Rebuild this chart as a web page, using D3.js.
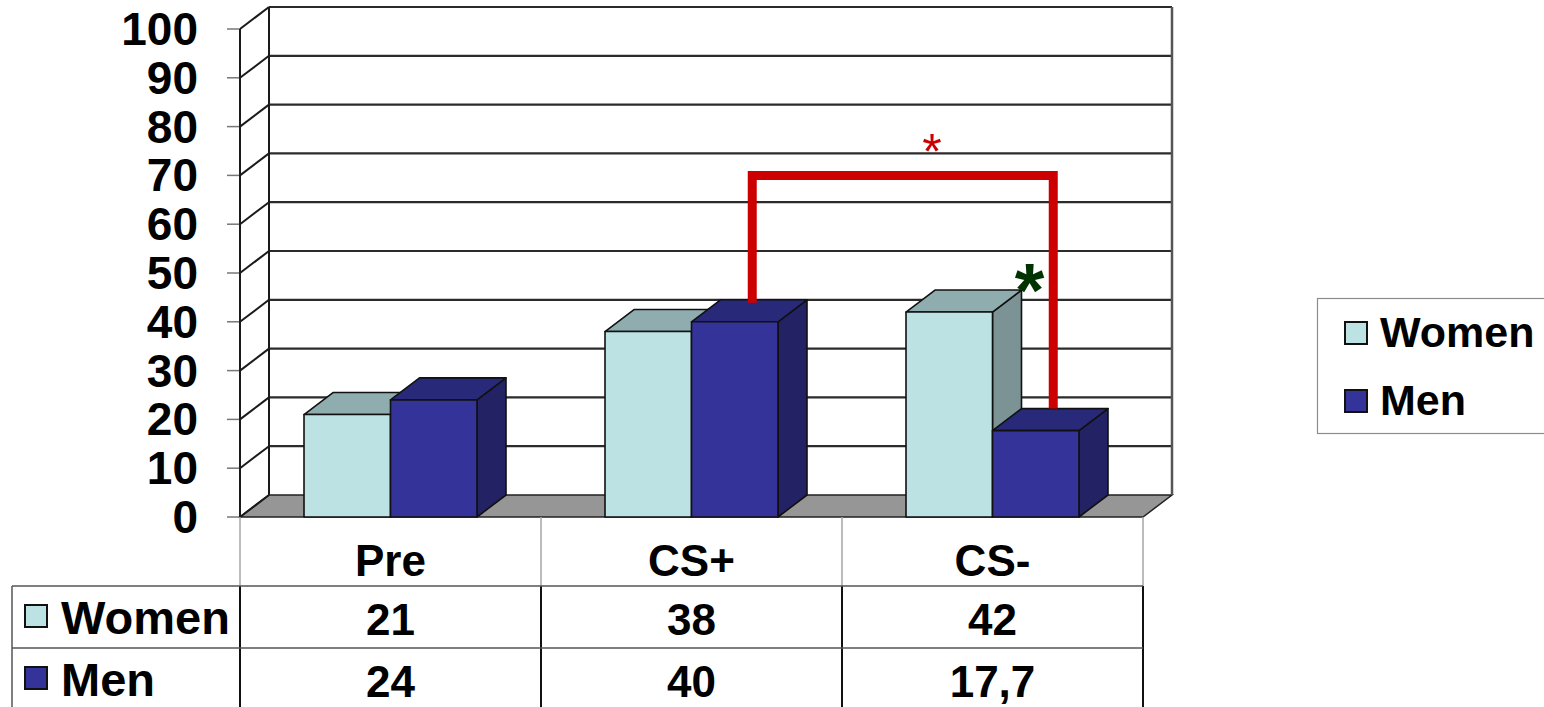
<!DOCTYPE html>
<html>
<head>
<meta charset="utf-8">
<script src="https://cdn.jsdelivr.net/npm/d3@7"></script>
<style>
  html, body { margin: 0; padding: 0; background: #fff; overflow: hidden; }
  svg { display: block; }
  text { font-family: "Liberation Sans", Arial, sans-serif; font-weight: bold; fill: #000; }
</style>
</head>
<body>
<svg id="chart" width="1544" height="707"></svg>
<script>
// ---- data ----
const categories = ["Pre", "CS+", "CS-"];
const series = ["Women", "Men"];
const womenValues = [21, 38, 42];
const menValues = [24, 40, 17.7];
const valueLabels = { Women: ["21", "38", "42"], Men: ["24", "40", "17,7"] };
const yTicks = [0, 10, 20, 30, 40, 50, 60, 70, 80, 90, 100];
// significance bracket between CS+ Men and CS- Men, drawn at level 70
const bracketLevel = 70;

const colors = {
  Women: { front: "#BDE2E3", top: "#8FADAE", side: "#7B9394" },
  Men:   { front: "#333399", top: "#29297A", side: "#222264" }
};

const svg = d3.select("#chart");

// ---- scales ----
const plotLeft = 240, plotRight = 1143, floorY = 517, topY = 29;
const depthX = 29, depthY = -22;

const y = d3.scaleLinear().domain([0, 100]).range([floorY, topY]);
const x0 = d3.scaleBand().domain(categories).range([plotLeft, plotRight]).paddingInner(0).paddingOuter(0);
const x1 = d3.scaleBand().domain(series).range([0, x0.bandwidth()]).paddingInner(0).paddingOuter(0.74);

const valuesBySeries = { Women: womenValues, Men: menValues };

// ---- floor ----
svg.append("path")
  .attr("d", `M${plotLeft},${floorY} L${plotLeft + depthX},${floorY + depthY} L${plotRight + depthX},${floorY + depthY} L${plotRight},${floorY} Z`)
  .attr("fill", "#969696").attr("stroke", "#222").attr("stroke-width", 1.5);

// ---- back wall grid ----
const grid = svg.append("g");
yTicks.forEach(t => {
  if (t > 0) {
    grid.append("line")
      .attr("x1", plotLeft + depthX).attr("x2", plotRight + depthX)
      .attr("y1", y(t) + depthY).attr("y2", y(t) + depthY)
      .attr("stroke", "#2b2b2b").attr("stroke-width", 2.2);
  }
  // side wall diagonal
  grid.append("line")
    .attr("x1", plotLeft).attr("y1", y(t))
    .attr("x2", plotLeft + depthX).attr("y2", y(t) + depthY)
    .attr("stroke", "#1a1a1a").attr("stroke-width", 2);
  // tick mark
  grid.append("line")
    .attr("x1", plotLeft - 13).attr("x2", plotLeft)
    .attr("y1", y(t)).attr("y2", y(t))
    .attr("stroke", "#777").attr("stroke-width", 1.5);
});
// wall edges
grid.append("line").attr("x1", plotLeft + depthX).attr("x2", plotLeft + depthX)
  .attr("y1", y(100) + depthY).attr("y2", y(0) + depthY).attr("stroke", "#1a1a1a").attr("stroke-width", 2);
grid.append("line").attr("x1", plotRight + depthX).attr("x2", plotRight + depthX)
  .attr("y1", y(100) + depthY).attr("y2", y(0) + depthY).attr("stroke", "#555").attr("stroke-width", 2.5);
grid.append("line").attr("x1", plotLeft).attr("x2", plotLeft)
  .attr("y1", y(100)).attr("y2", y(0)).attr("stroke", "#1a1a1a").attr("stroke-width", 2);

// ---- y axis labels ----
svg.append("g").selectAll("text").data(yTicks).join("text")
  .attr("x", 198).attr("y", d => y(d) + 16)
  .attr("text-anchor", "end").attr("font-size", 46)
  .text(d => d);

// ---- 3D bars ----
const bars = svg.append("g");
categories.forEach((c, i) => {
  series.forEach(s => {
    const v = valuesBySeries[s][i];
    const xl = x0(c) + x1(s), xr = xl + x1.bandwidth();
    const yt = y(v), yb = y(0);
    const col = colors[s];
    const g = bars.append("g").attr("stroke", "#111").attr("stroke-width", 1.6).attr("stroke-linejoin", "round");
    g.append("path").attr("fill", col.side)
      .attr("d", `M${xr},${yb} L${xr + depthX},${yb + depthY} L${xr + depthX},${yt + depthY} L${xr},${yt} Z`);
    g.append("path").attr("fill", col.top)
      .attr("d", `M${xl},${yt} L${xl + depthX},${yt + depthY} L${xr + depthX},${yt + depthY} L${xr},${yt} Z`);
    g.append("rect").attr("fill", col.front)
      .attr("x", xl).attr("y", yt).attr("width", xr - xl).attr("height", yb - yt);
  });
});

// ---- significance bracket ----
const legX = (c, s) => x0(c) + x1(s) + x1.bandwidth() / 2 + depthX / 2 + 3;
const bx1 = legX("CS+", "Men"), bx2 = legX("CS-", "Men");
const by = y(bracketLevel);
svg.append("path")
  .attr("d", `M${bx1},${y(menValues[1]) + depthY + 3} L${bx1},${by} L${bx2},${by} L${bx2},${y(menValues[2]) + depthY}`)
  .attr("fill", "none").attr("stroke", "#CC0000").attr("stroke-width", 9).attr("stroke-linejoin", "miter");
svg.append("text")
  .attr("x", x0("CS-") + 90).attr("y", by - 6)
  .attr("text-anchor", "middle").attr("font-size", 50)
  .attr("font-family", "DejaVu Sans")
  .style("fill", "#CC0000").style("font-weight", "normal")
  .text("*");
// women CS- marker
svg.append("text")
  .attr("x", x0("CS-") + x1("Women") + x1.bandwidth() + depthX + 8).attr("y", y(womenValues[2]) + depthY + 26)
  .attr("text-anchor", "middle").attr("font-size", 76)
  .style("fill", "#003300")
  .text("*");

// ---- data table ----
const table = svg.append("g");
const headerTop = floorY, row1 = 586, row2 = 648, rowEnd = 707, tableLeft = 12;
const colEdges = [plotLeft, ...categories.map(c => x0(c) + x0.bandwidth())];
colEdges.forEach(xv => {
  table.append("line").attr("x1", xv).attr("x2", xv).attr("y1", headerTop).attr("y2", row1)
    .attr("stroke", "#a6a6a6").attr("stroke-width", 1.5);
  table.append("line").attr("x1", xv).attr("x2", xv).attr("y1", row1).attr("y2", rowEnd)
    .attr("stroke", "#111").attr("stroke-width", 2);
});
table.append("line").attr("x1", tableLeft).attr("x2", tableLeft).attr("y1", row1).attr("y2", rowEnd)
  .attr("stroke", "#555").attr("stroke-width", 1.5);
[row1, row2].forEach(yy => {
  table.append("line").attr("x1", tableLeft).attr("x2", plotRight).attr("y1", yy).attr("y2", yy)
    .attr("stroke", "#555").attr("stroke-width", 1.5);
});
// header (category names)
table.selectAll("text.cat").data(categories).join("text").attr("class", "cat")
  .attr("x", d => x0(d) + x0.bandwidth() / 2).attr("y", 576)
  .attr("text-anchor", "middle").attr("font-size", 44).text(d => d);
// rows
const rowsY = { Women: row1, Men: row2 };
series.forEach(s => {
  const top = rowsY[s];
  table.append("rect").attr("x", 25).attr("y", top + 19).attr("width", 22).attr("height", 22)
    .attr("fill", colors[s].front).attr("stroke", "#111").attr("stroke-width", 2);
  table.append("text").attr("x", 61).attr("y", top + 48).attr("font-size", 47).text(s);
  categories.forEach((c, i) => {
    table.append("text").attr("x", x0(c) + x0.bandwidth() / 2).attr("y", top + 49)
      .attr("text-anchor", "middle").attr("font-size", 44).text(valueLabels[s][i]);
  });
});

// ---- legend ----
const legend = svg.append("g");
legend.append("rect").attr("x", 1317.5).attr("y", 298.5).attr("width", 240).attr("height", 135)
  .attr("fill", "#fff").attr("stroke", "#8c8c8c").attr("stroke-width", 1.2);
series.forEach((s, i) => {
  const ly = 322 + i * 68;
  legend.append("rect").attr("x", 1345).attr("y", ly).attr("width", 22).attr("height", 22)
    .attr("fill", colors[s].front).attr("stroke", "#111").attr("stroke-width", 2);
  legend.append("text").attr("x", 1380).attr("y", ly + 25).attr("font-size", 43).text(s);
});
</script>
</body>
</html>
